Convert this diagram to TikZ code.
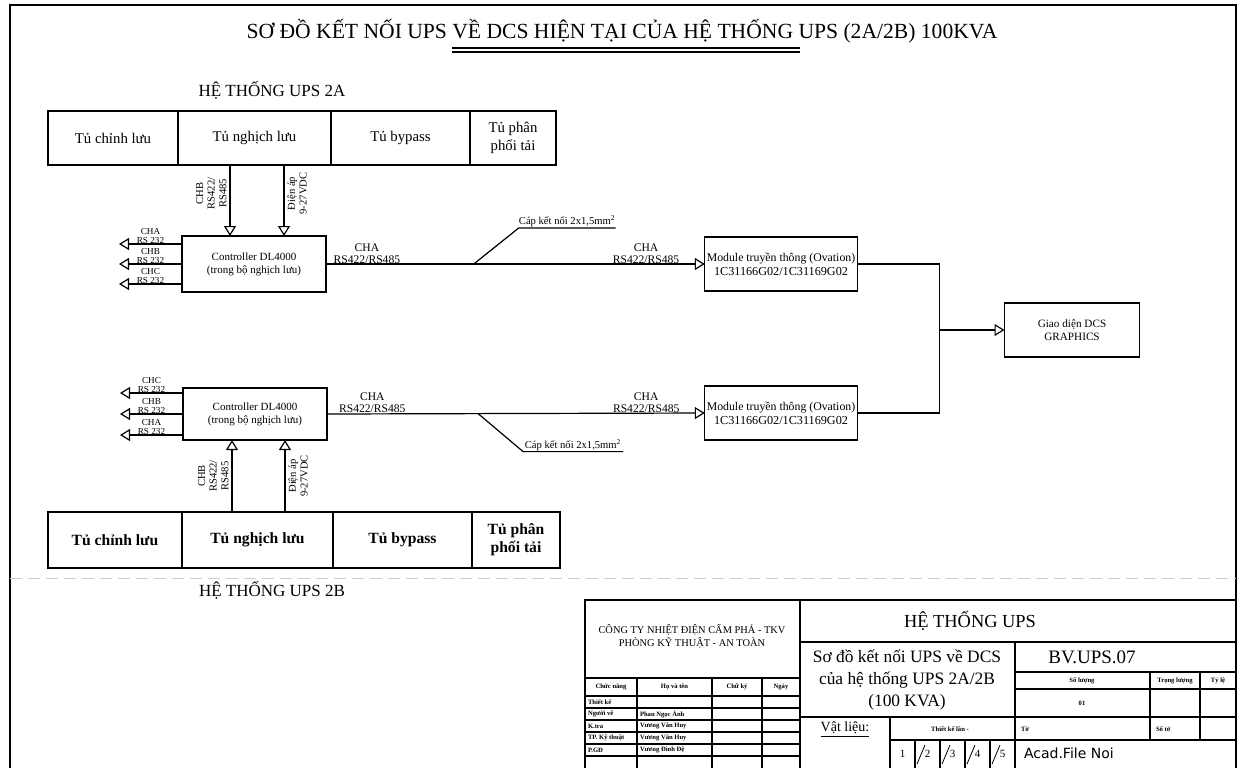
\documentclass[tikz,border=0pt]{standalone}
\usepackage{fontspec}
\setmainfont{Liberation Serif}
\newfontfamily\cadfont{DejaVu Sans}
\usetikzlibrary{positioning, calc, arrows.meta}
\newcommand\fsz[2]{\fontsize{#1}{#2}\selectfont}

\begin{document}
\begin{tikzpicture}[
    x=0.5pt, y=-0.5pt,
    line width=0.6pt,
    every node/.style={inner sep=1pt, outer sep=0pt},
    cab/.style={draw, minimum height=27pt, inner sep=0pt, align=center, font=\fsz{7.4}{8.6}},
    cabb/.style={cab, minimum height=28pt, font=\bfseries\fsz{7.8}{9}},
    ctrl/.style={draw, minimum width=72pt, minimum height=28pt, align=center, font=\fsz{5.5}{6.6}},
    modl/.style={draw, minimum width=76pt, minimum height=27pt, align=center, font=\fsz{5.9}{7}},
    lbl/.style={align=center, inner sep=0.4pt, font=\fsz{5.8}{6}},
    plbl/.style={align=center, inner sep=0.1pt, font=\fsz{4.6}{4.7}},
    vlbl/.style={lbl, rotate=90, inner sep=1.8pt, font=\fsz{5.3}{5.8}},
    cbl/.style={inner sep=0.4pt, font=\fsz{5.3}{6}},
    arr/.style={-{Triangle[open, length=5pt, width=6pt]}},
    tb/.style={line width=0.8pt},
    tbs/.style={font=\bfseries\fsz{3.3}{3.8}, inner sep=0.5pt}
  ]
  \useasboundingbox (0,0) rectangle (1242,768);
  % drawing frame
  \draw[line width=0.9pt] (10,768) -- (10,5) -- (1236,5) -- (1236,768);

  % title
  \node[font=\fsz{10.8}{13}] (title) at (622,31) {SƠ ĐỒ KẾT NỐI UPS VỀ DCS HIỆN TẠI CỦA HỆ THỐNG UPS (2A/2B) 100KVA};
  \draw[line width=0.9pt] (452,48) -- (800,48) (452,52) -- (800,52);

  \node[font=\fsz{8.5}{10}] (hA) at (272,90) {HỆ THỐNG UPS 2A};
  \node[font=\fsz{8.5}{10}] (hB) at (272,590) {HỆ THỐNG UPS 2B};

  % UPS 2A cabinets
  \node[cab, minimum width=65pt] (ca1) at (113,138) {Tủ chỉnh lưu};
  \node[cab, minimum width=76.5pt, right=0pt of ca1] (ca2) {Tủ nghịch lưu};
  \node[cab, minimum width=69.5pt, right=0pt of ca2] (ca3) {Tủ bypass};
  \node[cab, minimum width=43pt, right=0pt of ca3] (ca4) {Tủ phân\\phối tải};

  % UPS 2B cabinets
  \node[cabb, minimum width=67pt] (cb1) at (115,540) {Tủ chỉnh lưu};
  \node[cabb, minimum width=75.5pt, right=0pt of cb1] (cb2) {Tủ nghịch lưu};
  \node[cabb, minimum width=69.5pt, right=0pt of cb2] (cb3) {Tủ bypass};
  \node[cabb, minimum width=44pt, right=0pt of cb3] (cb4) {Tủ phân\\phối tải};

  % controllers and modules
  \node[ctrl] (c1) at (254,264) {Controller DL4000\\(trong bộ nghịch lưu)};
  \node[ctrl, minimum height=26pt] (c2) at (255,414) {Controller DL4000\\(trong bộ nghịch lưu)};
  \node[modl] (m1) at (781,264) {Module truyền thông (Ovation)\\{\fsz{6.1}{7}1C31166G02/1C31169G02}};
  \node[modl] (m2) at (781,413) {Module truyền thông (Ovation)\\{\fsz{6.1}{7}1C31166G02/1C31169G02}};
  \node[draw, minimum width=67.5pt, minimum height=27pt, align=center, font=\fsz{5.6}{6.4}] (dcs) at (1072,330) {Giao diện DCS\\GRAPHICS};

  % RS232 ports
  \foreach \dy/\chn in {-20/CHA, 0/CHB, 20/CHC}
    \draw[arr] ($(c1.west)+(0,\dy)$) -- ++(-63,0) node[midway, above, plbl] {\chn\\RS 232};
  \foreach \dy/\chn in {-21/CHC, 0/CHB, 21/CHA}
    \draw[arr] ($(c2.west)+(0,\dy)$) -- ++(-63,0) node[midway, above, plbl] {\chn\\RS 232};

  % inverter cabinet to controller
  \coordinate (a1) at ($(ca2.south)+(-24.5,0)$);
  \coordinate (a2) at ($(ca2.south)+(29.5,0)$);
  \draw[arr] (a1) -- (a1 |- c1.north) node[pos=0.4, vlbl, anchor=south] {CHB\\RS422/\\RS485};
  \draw[arr] (a2) -- (a2 |- c1.north) node[pos=0.4, vlbl, anchor=north] {Điện áp\\9-27VDC};
  \coordinate (b1) at ($(cb2.north)+(-25.5,0)$);
  \coordinate (b2) at ($(cb2.north)+(27.5,0)$);
  \draw[arr] (b1) -- (b1 |- c2.south) node[pos=0.5, vlbl, anchor=south] {CHB\\RS422/\\RS485};
  \draw[arr] (b2) -- (b2 |- c2.south) node[pos=0.5, vlbl, anchor=north] {Điện áp\\9-27VDC};

  % controller to module
  \draw[arr] (c1.east) -- (m1.west)
    node[pos=0.108, above, lbl] {CHA\\RS422/RS485}
    node[pos=0.845, above, lbl] {CHA\\RS422/RS485}
    coordinate[pos=0.39] (k1);
  \draw (k1) -- ++(45,-36) -- ++(97,0) node[midway, above, cbl] {Cáp kết nối 2x1,5mm\textsuperscript{2}};
  \draw[arr] (c2.east) -- (m2.west)
    node[pos=0.12, above, lbl] {CHA\\RS422/RS485}
    node[pos=0.845, above, lbl] {CHA\\RS422/RS485}
    coordinate[pos=0.4] (k2);
  \draw (k2) -- ++(45,38) -- ++(100,0) node[midway, above, cbl] {Cáp kết nối 2x1,5mm\textsuperscript{2}};

  % modules to DCS
  \coordinate (bus) at ($(dcs.west)+(-65,0)$);
  \draw (m1.east) -| (bus) |- (m2.east);
  \draw[arr] (bus) -- (dcs.west);

  \draw[gray!40, dash pattern=on 6pt off 3pt, line width=0.5pt] (10,578) -- (1236,578);

  % title block
  \draw[tb] (585,768) -- (585,600) -- (1236,600);
  \draw[tb] (800,600) -- (800,768) (800,642) -- (1236,642) (1015,642) -- (1015,768) (800,717) -- (1236,717);
  \draw (1015,672) -- (1236,672) (1015,689) -- (1236,689) (1015,740) -- (1236,740);
  \draw (1150,672) -- (1150,740) (1200,672) -- (1200,740);
  \draw (890,717) -- (890,768) (890,740) -- (1015,740);
  \foreach \x in {915,940,965,990} {
    \draw (\x,740) -- (\x,768);
    \draw[line width=0.4pt] (\x+2,764) -- (\x+10,745);
  }
  \foreach \n in {1,...,5}
    \node[font=\fsz{5.5}{6}] at (877.5+25*\n,754) {\n};

  \draw[tb] (585,678) -- (800,678);
  \foreach \y in {696,708,720,732,744,756}
    \draw (585,\y) -- (800,\y);
  \foreach \x in {637,712,762}
    \draw (\x,678) -- (\x,768);

  \node[font=\fsz{5.2}{6.6}, align=center] (cty) at (692,636) {CÔNG TY NHIỆT ĐIỆN CẨM PHẢ - TKV\\PHÒNG KỸ THUẬT - AN TOÀN};
  \node[tbs] at (611,687) {Chức năng};
  \node[tbs] at (674.5,687) {Họ và tên};
  \node[tbs] at (737,687) {Chữ ký};
  \node[tbs] at (781,687) {Ngày};
  \node[tbs, anchor=west] at (587,702) {Thiết kế};
  \node[tbs, anchor=west] at (587,714) {Người vẽ};
  \node[tbs, anchor=west] at (639,714) {Phan Ngọc Ánh};
  \node[tbs, anchor=west] at (587,726) {K.tra};
  \node[tbs, anchor=west] at (639,726) {Vương Văn Huy};
  \node[tbs, anchor=west] at (587,738) {TP. Kỹ thuật};
  \node[tbs, anchor=west] at (639,738) {Vương Văn Huy};
  \node[tbs, anchor=west] at (587,750) {P.GĐ};
  \node[tbs, anchor=west] at (639,750) {Vương Đình Đệ};

  \node[font=\fsz{9.2}{10}] (tbh) at (970,621) {HỆ THỐNG UPS};
  \node[font=\fsz{8.7}{11.2}, align=center] (tbn) at (907,680) {Sơ đồ kết nối UPS về DCS\\của hệ thống UPS 2A/2B\\(100 KVA)};
  \node[font=\fsz{7}{8}] at (845,730) {\underline{Vật liệu:}};
  \node[tbs] at (950,729) {Thiết kế lần -};
  \node[font=\fsz{9.5}{10}] (tbc) at (1092,657) {BV.UPS.07};
  \node[tbs] at (1082,681) {Số lượng};
  \node[tbs] at (1175,681) {Trọng lượng};
  \node[tbs] at (1218,681) {Tỷ lệ};
  \node[tbs] at (1082,703) {01};
  \node[tbs, anchor=west] at (1020,729) {Tờ};
  \node[tbs, anchor=west] at (1155,729) {Số tờ};
  \node[font=\cadfont\fsz{7}{8}, anchor=west] at (1022,753) {Acad.File Noi};
\end{tikzpicture}
\end{document}
